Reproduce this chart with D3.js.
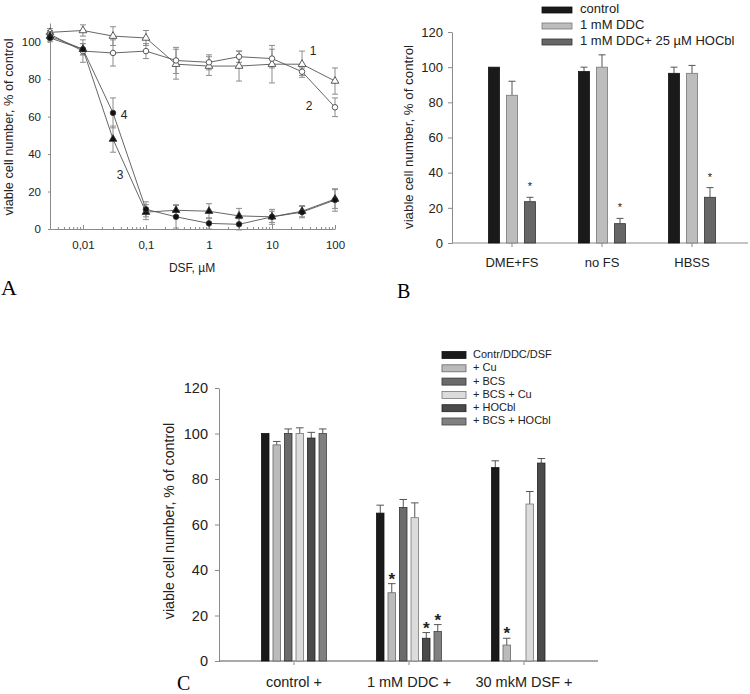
<!DOCTYPE html>
<html>
<head>
<meta charset="utf-8">
<script src="https://cdn.jsdelivr.net/npm/d3@7"></script>
<style>
  body { margin: 0; background: #fff; }
  svg { font-family: "Liberation Sans", Arial, sans-serif; }
  .axis path, .axis line { stroke: #8a8a8a; }
  .axis text { fill: #222; }
</style>
</head>
<body>
<div class="graph"></div>
<script>
// ---- panel A: DSF dose response ----
const concA = [0.003, 0.01, 0.03, 0.1, 0.3, 1, 3, 10, 30, 100];
const curve1 = [105, 106, 103, 102, 88, 87, 87, 88, 88, 79];
const curve1Err = [2, 3, 5, 4, 8, 5, 8, 10, 7, 7];
const curve2 = [104, 95, 94, 95, 90, 89, 92, 91, 84, 65];
const curve2Err = [2, 6, 7, 4, 7, 4, 3, 5, 2, 5];
const curve3 = [103, 96, 48, 9, 10, 9.5, 7, 6.5, 9.5, 16];
const curve3Err = [2, 3, 7, 4, 3, 4, 4, 4, 3, 5];
const curve4 = [102, 96, 62, 10.5, 6.5, 3, 2.5, 6.5, 9, 15.5];
const curve4Err = [2, 3, 8, 4, 6, 3, 3, 3, 3, 6];
const ticksA = [0.01, 0.1, 1, 10, 100];
const tickLabelsA = ["0,01", "0,1", "1", "10", "100"];

// ---- panel B ----
const groupsB = ["DME+FS", "no FS", "HBSS"];
const seriesB = ["control", "1 mM DDC", "1 mM DDC+ 25 µM HOCbl"];
const controlB = [100, 97.5, 96.5];
const controlBErr = [0, 2.5, 3.5];
const ddcB = [84, 100, 96.5];
const ddcBErr = [8, 7, 4.5];
const hocblB = [23.5, 11, 26];
const hocblBErr = [2.5, 3, 5.5];

// ---- panel C ----
const groupsC = ["control +", "1 mM DDC +", "30 mkM DSF +"];
const seriesC = ["Contr/DDC/DSF", "+ Cu", "+ BCS", "+ BCS + Cu", "+ HOCbl", "+ BCS + HOCbl"];
const contrC = [100, 65, 85];
const contrCErr = [0, 3.5, 3];
const cuC = [95, 30, 7];
const cuCErr = [1.5, 4, 3];
const bcsC = [100, 67.5, null];
const bcsCErr = [2, 3.5, null];
const bcsCuC = [100, 63, 69];
const bcsCuCErr = [2.5, 6.5, 5.5];
const hocblC = [98, 10, 87];
const hocblCErr = [2.5, 2.5, 2];
const bcsHocblC = [100, 13, null];
const bcsHocblCErr = [2, 3, null];

const width = 750;
const height = 694;

const svg = d3.select(".graph")
  .append("svg")
  .attr("width", width)
  .attr("height", height);

// ================= A =================
const xA = d3.scaleLog().domain([0.003, 100]).range([50, 335]);
const yA = d3.scaleLinear().domain([0, 110]).range([229, 23]);

const minorA = [];
[0.001, 0.01, 0.1, 1, 10].forEach(dec => {
  for (let k = 2; k <= 9; k++) {
    const v = dec * k;
    if (v >= 0.003 && v <= 100) minorA.push(v);
  }
});

svg.append("g")
  .attr("class", "axis")
  .attr("transform", "translate(0,229)")
  .call(d3.axisBottom(xA).tickValues(minorA).tickSize(-2).tickFormat(""))
  .call(g => g.select(".domain").remove());

svg.append("g")
  .attr("class", "axis")
  .attr("transform", "translate(0,229)")
  .call(d3.axisBottom(xA).tickValues(ticksA).tickSizeInner(-4).tickSizeOuter(0)
    .tickPadding(12).tickFormat((d, i) => tickLabelsA[i]))
  .attr("font-size", 11.5)
  .attr("font-family", null);

svg.append("g")
  .attr("class", "axis")
  .attr("transform", "translate(50,0)")
  .call(d3.axisLeft(yA).tickValues([0, 20, 40, 60, 80, 100]).tickSizeInner(2).tickSizeOuter(0).tickPadding(7))
  .attr("font-size", 11.5)
  .attr("font-family", null);

const curvesA = [
  { v: curve1, e: curve1Err, sym: d3.symbolTriangle, fill: "#fff" },
  { v: curve2, e: curve2Err, sym: d3.symbolCircle, fill: "#fff" },
  { v: curve3, e: curve3Err, sym: d3.symbolTriangle, fill: "#111" },
  { v: curve4, e: curve4Err, sym: d3.symbolCircle, fill: "#111" }
];

const lineA = d3.line().x((d, i) => xA(concA[i])).y(d => yA(d));

curvesA.forEach(c => {
  const pts = c.v.map((v, i) => ({ x: concA[i], v: v, e: c.e[i] }));
  const eb = svg.append("g").attr("stroke", "#8c8c8c").attr("stroke-width", 1);
  eb.selectAll("line.v").data(pts).enter().append("line")
    .attr("x1", d => xA(d.x)).attr("x2", d => xA(d.x))
    .attr("y1", d => yA(d.v - d.e)).attr("y2", d => yA(d.v + d.e));
  eb.selectAll("line.t").data(pts).enter().append("line")
    .attr("x1", d => xA(d.x) - 3).attr("x2", d => xA(d.x) + 3)
    .attr("y1", d => yA(d.v + d.e)).attr("y2", d => yA(d.v + d.e));
  eb.selectAll("line.b").data(pts).enter().append("line")
    .attr("x1", d => xA(d.x) - 3).attr("x2", d => xA(d.x) + 3)
    .attr("y1", d => yA(d.v - d.e)).attr("y2", d => yA(d.v - d.e));
});

curvesA.forEach(c => {
  svg.append("path")
    .datum(c.v)
    .attr("d", lineA)
    .attr("fill", "none")
    .attr("stroke", "#555")
    .attr("stroke-width", 0.9);
});

curvesA.forEach(c => {
  svg.append("g").selectAll("path")
    .data(c.v)
    .enter().append("path")
    .attr("d", d3.symbol().type(c.sym).size(c.sym === d3.symbolCircle ? 24 : 26))
    .attr("transform", (d, i) => `translate(${xA(concA[i])},${yA(d)})`)
    .attr("fill", c.fill)
    .attr("stroke", "#333")
    .attr("stroke-width", 0.8);
});

// curve numbers
const curveLabels = [
  { t: "1", c: 30, v: curve1[8], dx: 11, dy: -12 },
  { t: "2", c: 100, v: curve2[9], dx: -26, dy: 0 },
  { t: "3", c: 0.03, v: curve3[2], dx: 7, dy: 37 },
  { t: "4", c: 0.03, v: curve4[2], dx: 11, dy: 3 }
];
svg.append("g").selectAll("text")
  .data(curveLabels)
  .enter().append("text")
  .attr("x", d => xA(d.c) + d.dx)
  .attr("y", d => yA(d.v) + d.dy)
  .attr("text-anchor", "middle")
  .attr("dominant-baseline", "middle")
  .attr("font-size", 12)
  .attr("fill", "#222")
  .text(d => d.t);

svg.append("text")
  .attr("transform", "translate(13,127) rotate(-90)")
  .attr("text-anchor", "middle")
  .attr("font-size", 12.8)
  .attr("fill", "#222")
  .text("viable cell number, % of control");

svg.append("text")
  .attr("x", 192)
  .attr("y", 272)
  .attr("text-anchor", "middle")
  .attr("font-size", 12)
  .attr("fill", "#222")
  .text("DSF, µM");

svg.append("text")
  .attr("x", 1)
  .attr("y", 295)
  .attr("font-family", "Liberation Serif, Times New Roman, serif")
  .attr("font-size", 22)
  .text("A");

// ================= B =================
const xB = d3.scaleBand().domain(groupsB).range([467, 737]);
const innerB = d3.scalePoint().domain(seriesB).range([-18, 18]);
const yB = d3.scaleLinear().domain([0, 120]).range([243, 32]);
const barWB = 11;
const fillB = ["#1a1a1a", "#bdbdbd", "#666"];
const strokeB = ["#111", "#777", "#333"];

svg.append("g")
  .attr("class", "axis")
  .attr("transform", "translate(452,0)")
  .call(d3.axisLeft(yB).ticks(6).tickSizeInner(4).tickSizeOuter(0).tickPadding(5))
  .attr("font-size", 13)
  .attr("font-family", null);

svg.append("line")
  .attr("x1", 452).attr("x2", 748)
  .attr("y1", yB(0)).attr("y2", yB(0))
  .attr("stroke", "#8a8a8a");

svg.append("g")
  .attr("class", "axis")
  .attr("transform", `translate(0,${yB(0)})`)
  .call(d3.axisBottom(xB).tickSizeInner(4).tickSizeOuter(0).tickPadding(11))
  .attr("font-size", 13)
  .attr("font-family", null)
  .call(g => g.select(".domain").remove());

const dataB = [
  { v: controlB, e: controlBErr, star: false },
  { v: ddcB, e: ddcBErr, star: false },
  { v: hocblB, e: hocblBErr, star: true }
];

dataB.forEach((s, si) => {
  const rows = groupsB.map((g, gi) => ({ g: g, v: s.v[gi], e: s.e[gi] }));
  const cx = d => xB(d.g) + xB.bandwidth() / 2 + innerB(seriesB[si]);
  const grp = svg.append("g");
  grp.selectAll("line.err").data(rows.filter(d => d.e > 0)).enter().append("line")
    .attr("x1", cx).attr("x2", cx)
    .attr("y1", d => yB(d.v)).attr("y2", d => yB(d.v + d.e))
    .attr("stroke", "#555");
  grp.selectAll("line.cap").data(rows.filter(d => d.e > 0)).enter().append("line")
    .attr("x1", d => cx(d) - 3.5).attr("x2", d => cx(d) + 3.5)
    .attr("y1", d => yB(d.v + d.e)).attr("y2", d => yB(d.v + d.e))
    .attr("stroke", "#555");
  grp.selectAll("rect").data(rows).enter().append("rect")
    .attr("x", d => cx(d) - barWB / 2)
    .attr("y", d => yB(d.v))
    .attr("width", barWB)
    .attr("height", d => yB(0) - yB(d.v))
    .attr("fill", fillB[si])
    .attr("stroke", strokeB[si])
    .attr("stroke-width", 0.8);
  if (s.star) {
    grp.selectAll("text").data(rows).enter().append("text")
      .attr("x", cx)
      .attr("y", d => yB(d.v + d.e) - 7)
      .attr("text-anchor", "middle")
      .attr("font-size", 11)
      .attr("fill", "#222")
      .text("*");
  }
});

const legB = svg.append("g").selectAll("g")
  .data(seriesB)
  .enter().append("g")
  .attr("transform", (d, i) => `translate(542,${10 + i * 16})`);
legB.append("rect")
  .attr("x", 0).attr("y", -3)
  .attr("width", 30).attr("height", 6)
  .attr("fill", (d, i) => fillB[i])
  .attr("stroke", (d, i) => strokeB[i])
  .attr("stroke-width", 0.8);
legB.append("text")
  .attr("x", 38)
  .attr("dominant-baseline", "middle")
  .attr("font-size", 13)
  .attr("fill", "#222")
  .text(d => d);

svg.append("text")
  .attr("transform", "translate(413,137) rotate(-90)")
  .attr("text-anchor", "middle")
  .attr("font-size", 13.3)
  .attr("fill", "#222")
  .text("viable cell number, % of control");

svg.append("text")
  .attr("x", 397)
  .attr("y", 298)
  .attr("font-family", "Liberation Serif, Times New Roman, serif")
  .attr("font-size", 20)
  .text("B");

// ================= C =================
const xC = d3.scaleBand().domain(groupsC).range([236.5, 581.5]);
const innerC = d3.scalePoint().domain(seriesC).range([-28.75, 28.75]);
const yC = d3.scaleLinear().domain([0, 120]).range([661, 388]);
const barWC = 7.5;
const fillC = ["#1a1a1a", "#bbbbbb", "#6b6b6b", "#dcdcdc", "#4a4a4a", "#808080"];
const strokeC = ["#111", "#666", "#333", "#777", "#222", "#444"];

svg.append("g")
  .attr("class", "axis")
  .attr("transform", "translate(219,0)")
  .call(d3.axisLeft(yC).ticks(6).tickSizeInner(4).tickSizeOuter(0).tickPadding(7))
  .attr("font-size", 14.5)
  .attr("font-family", null);

svg.append("line")
  .attr("x1", 219).attr("x2", 598)
  .attr("y1", yC(0)).attr("y2", yC(0))
  .attr("stroke", "#555");

svg.append("g")
  .attr("class", "axis")
  .attr("transform", `translate(0,${yC(0)})`)
  .call(d3.axisBottom(xC).tickSizeInner(4).tickSizeOuter(0).tickPadding(12))
  .attr("font-size", 14.5)
  .attr("font-family", null)
  .call(g => g.select(".domain").remove());

const dataC = [
  { v: contrC, e: contrCErr, stars: [] },
  { v: cuC, e: cuCErr, stars: [1, 2] },
  { v: bcsC, e: bcsCErr, stars: [] },
  { v: bcsCuC, e: bcsCuCErr, stars: [] },
  { v: hocblC, e: hocblCErr, stars: [1] },
  { v: bcsHocblC, e: bcsHocblCErr, stars: [1] }
];

dataC.forEach((s, si) => {
  const rows = groupsC.map((g, gi) => ({ g: g, gi: gi, v: s.v[gi], e: s.e[gi] }))
    .filter(d => d.v !== null);
  const cx = d => xC(d.g) + xC.bandwidth() / 2 + innerC(seriesC[si]);
  const grp = svg.append("g");
  grp.selectAll("line.err").data(rows.filter(d => d.e > 0)).enter().append("line")
    .attr("x1", cx).attr("x2", cx)
    .attr("y1", d => yC(d.v)).attr("y2", d => yC(d.v + d.e))
    .attr("stroke", "#555");
  grp.selectAll("line.cap").data(rows.filter(d => d.e > 0)).enter().append("line")
    .attr("x1", d => cx(d) - 3.8).attr("x2", d => cx(d) + 3.8)
    .attr("y1", d => yC(d.v + d.e)).attr("y2", d => yC(d.v + d.e))
    .attr("stroke", "#555");
  grp.selectAll("rect").data(rows).enter().append("rect")
    .attr("x", d => cx(d) - barWC / 2)
    .attr("y", d => yC(d.v))
    .attr("width", barWC)
    .attr("height", d => yC(0) - yC(d.v))
    .attr("fill", fillC[si])
    .attr("stroke", strokeC[si])
    .attr("stroke-width", 0.8);
  grp.selectAll("text").data(rows.filter(d => s.stars.includes(d.gi))).enter().append("text")
    .attr("x", cx)
    .attr("y", d => yC(d.v + d.e) + 1)
    .attr("text-anchor", "middle")
    .attr("font-size", 17)
    .attr("font-weight", "bold")
    .attr("fill", "#222")
    .text("*");
});

const legC = svg.append("g").selectAll("g")
  .data(seriesC)
  .enter().append("g")
  .attr("transform", (d, i) => `translate(442,${355 + i * 13.3})`);
legC.append("rect")
  .attr("x", 0).attr("y", -3.5)
  .attr("width", 24).attr("height", 7)
  .attr("fill", (d, i) => fillC[i])
  .attr("stroke", (d, i) => strokeC[i])
  .attr("stroke-width", 0.8);
legC.append("text")
  .attr("x", 31)
  .attr("dominant-baseline", "middle")
  .attr("font-size", 11)
  .attr("fill", "#222")
  .text(d => d);

svg.append("text")
  .attr("transform", "translate(174,521) rotate(-90)")
  .attr("text-anchor", "middle")
  .attr("font-size", 14.2)
  .attr("fill", "#222")
  .text("viable cell number, % of control");

svg.append("text")
  .attr("x", 177)
  .attr("y", 690)
  .attr("font-family", "Liberation Serif, Times New Roman, serif")
  .attr("font-size", 20)
  .text("C");
</script>
</body>
</html>
